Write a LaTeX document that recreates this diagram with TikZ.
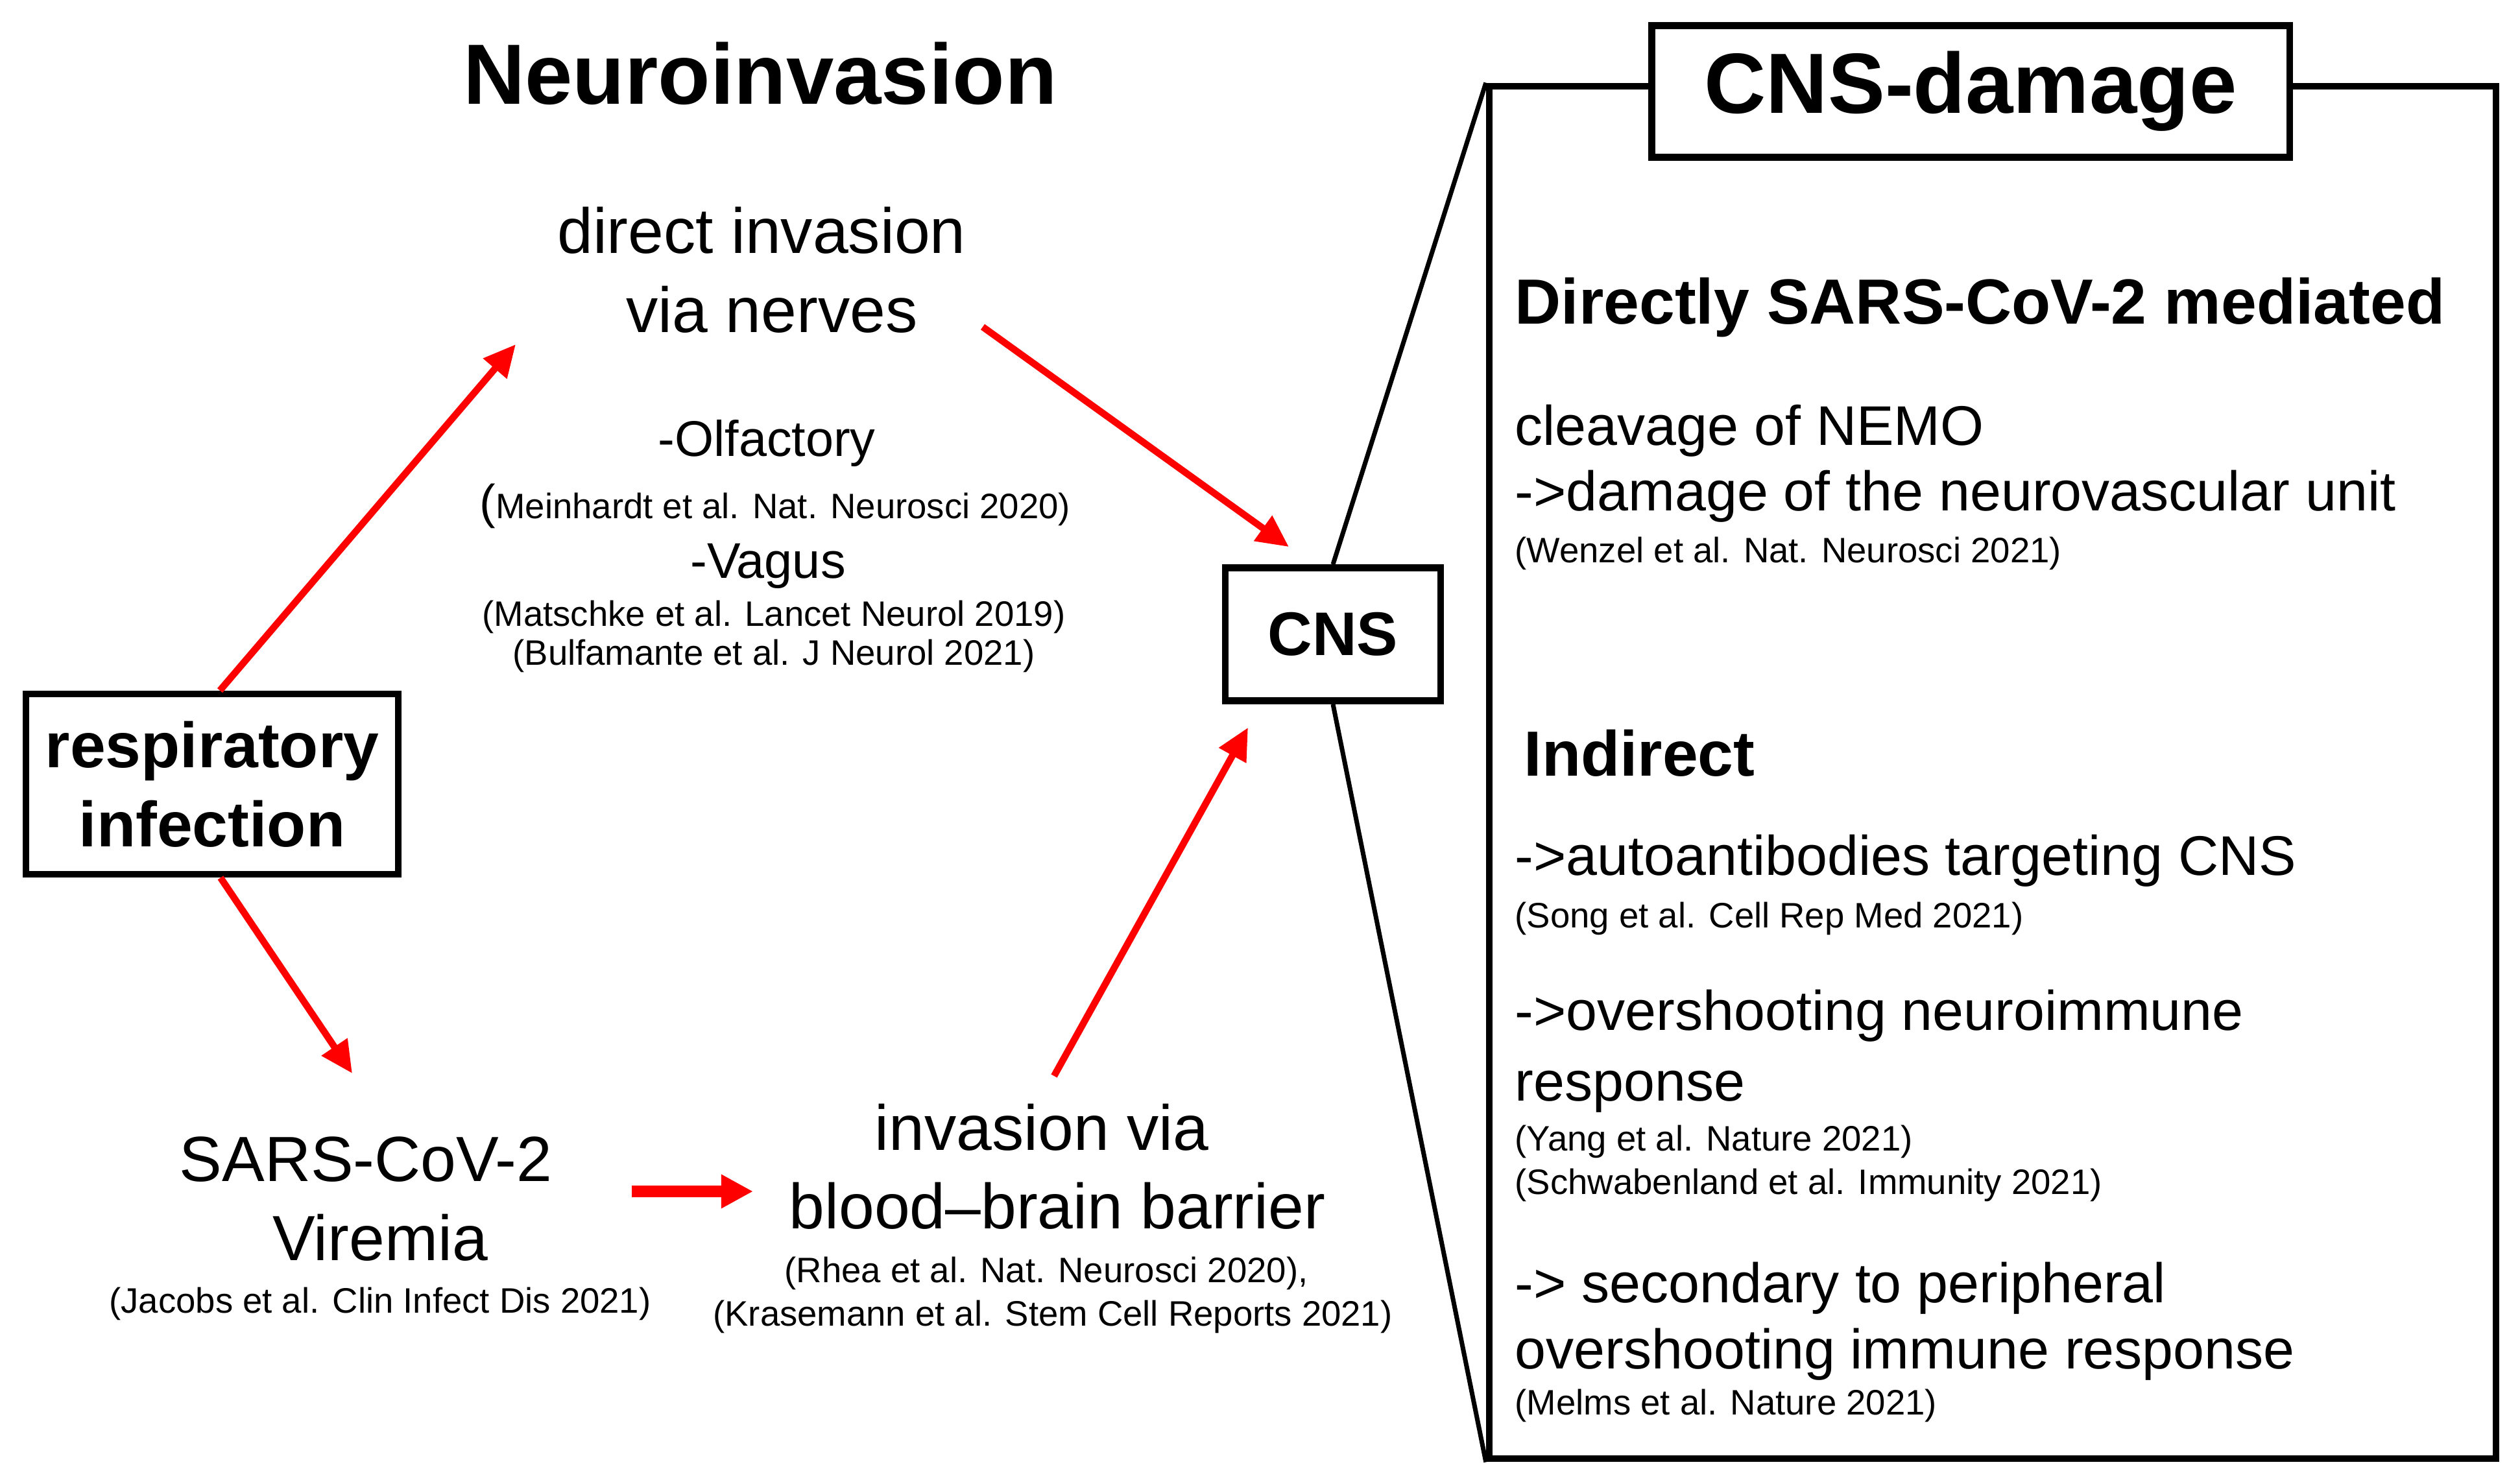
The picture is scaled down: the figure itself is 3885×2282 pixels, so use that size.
\documentclass[tikz,border=0pt]{standalone}
\usepackage{fontspec}
\setmainfont{Liberation Sans}
\usetikzlibrary{arrows.meta}

\begin{document}
\begin{tikzpicture}[x=0.01cm, y=-0.01cm,
    frame/.style={draw, line width=3pt, inner sep=0pt},
    redarrow/.style={red, line width=3pt, -{Triangle[length=14pt,width=13pt]}},
    big/.style={font=\fontsize{37.5}{40}\selectfont\bfseries, inner sep=0pt},
    txt/.style={font=\fontsize{28}{34}\selectfont, anchor=base, inner sep=0pt},
    head/.style={font=\fontsize{28}{34}\selectfont\bfseries, anchor=base west, inner sep=0pt},
    item/.style={font=\fontsize{24.5}{30}\selectfont, anchor=base west, inner sep=0pt},
    nerve/.style={font=\fontsize{22}{26}\selectfont, anchor=base, inner sep=0pt},
    cite/.style={font=\fontsize{15.5}{18}\selectfont, anchor=base, inner sep=0pt}]

    \useasboundingbox (0,0) rectangle (3885,2282);

    %%%%% neuroinvasion %%%%%
    \node[big, anchor=base] (title) at (1172,161) {Neuroinvasion};

    \node[txt] (direct) at (1174,391) {direct invasion};
    \node[txt] (nerves) at (1190,512) {via nerves};
    \node[nerve] (olf) at (1182,703) {-Olfactory};
    \node[cite] (olfref) at (1195,799) {{\fontsize{21}{21}\selectfont(}Meinhardt et al. Nat. Neurosci 2020)};
    \node[nerve] (vagus) at (1184,891) {-Vagus};
    \node[cite] (vagref) at (1193,965) {(Matschke et al. Lancet Neurol 2019)};
    \node[cite] (vagref2) at (1193,1025) {(Bulfamante et al. J Neurol 2021)};

    \node[frame, minimum width=5.74cm, minimum height=2.78cm, align=center,
        font=\fontsize{28}{34.7}\selectfont\bfseries] (resp) at (327,1209) {respiratory\\infection};

    \node[txt] (sars) at (564,1821) {SARS-CoV-2};
    \node[txt] (viremia) at (586,1943) {Viremia};
    \node[cite] (viraref) at (586,2024) {(Jacobs et al. Clin Infect Dis 2021)};

    \node[txt] (bbb) at (1606,1773) {invasion via};
    \node[txt] (bbb2) at (1630,1894) {blood–brain barrier};
    \node[cite] (bbbref) at (1613,1977) {(Rhea et al. Nat. Neurosci 2020),};
    \node[cite] (bbbref2) at (1623,2044) {(Krasemann et al. Stem Cell Reports 2021)};

    \node[frame, minimum width=3.32cm, minimum height=2.05cm,
        font=\fontsize{27}{30}\selectfont\bfseries] (cns) at (2055,978) {CNS};

    %%%%% arrows %%%%%
    \coordinate (respTop) at ([shift={(12,0)}]resp.north);
    \coordinate (respBot) at ([shift={(13,0)}]resp.south);
    \coordinate (nerveIn) at (795,531);
    \coordinate (nerveOut) at (1515,504);
    \coordinate (viraIn) at (543,1655);
    \coordinate (viraOut) at (974,1837);
    \coordinate (bbbIn) at (1161,1837);
    \coordinate (bbbOut) at (1625,1659);
    \coordinate (cnsTop) at ([shift={(-68,-27)}]cns.north);
    \coordinate (cnsBot) at ([shift={(-131,36)}]cns.south);

    \draw[redarrow] (respTop) -- (nerveIn);
    \draw[redarrow] (nerveOut) -- (cnsTop);
    \draw[redarrow] (respBot) -- (viraIn);
    \draw[redarrow, line width=5pt, -{Triangle[length=14pt,width=14pt]}] (viraOut) -- (bbbIn);
    \draw[redarrow] (bbbOut) -- (cnsBot);

    %%%%% CNS damage %%%%%
    \node[frame, minimum width=15.51cm, minimum height=21.15cm] (panel) at (3072,1191) {};
    \node[frame, big, fill=white, minimum width=9.83cm, minimum height=2.03cm] (dmg) at (3038,141) {CNS-damage};

    \draw[line width=2pt] (cns.north) -- (panel.north west);
    \draw[line width=2pt] (cns.south) -- (panel.south west);

    \node[head] (directly) at (2335,499) {Directly SARS-CoV-2 mediated};
    \node[item] (nemo) at (2335,686) {cleavage of NEMO};
    \node[item] (nvu) at (2335,787) {->damage of the neurovascular unit};
    \node[cite, anchor=base west] (nvuref) at (2335,867) {(Wenzel et al. Nat. Neurosci 2021)};

    \node[head] (indirect) at (2349,1196) {Indirect};
    \node[item] (auto) at (2335,1349) {->autoantibodies targeting CNS};
    \node[cite, anchor=base west] (autoref) at (2335,1430) {(Song et al. Cell Rep Med 2021)};
    \node[item] (immune) at (2335,1588) {->overshooting neuroimmune};
    \node[item] (immune2) at (2335,1697) {response};
    \node[cite, anchor=base west] (immuneref) at (2335,1774) {(Yang et al. Nature 2021)};
    \node[cite, anchor=base west] (immuneref2) at (2335,1841) {(Schwabenland et al. Immunity 2021)};
    \node[item] (periph) at (2335,2008) {-> secondary to peripheral};
    \node[item] (periph2) at (2335,2110) {overshooting immune response};
    \node[cite, anchor=base west] (periphref) at (2335,2181) {(Melms et al. Nature 2021)};

\end{tikzpicture}
\end{document}
